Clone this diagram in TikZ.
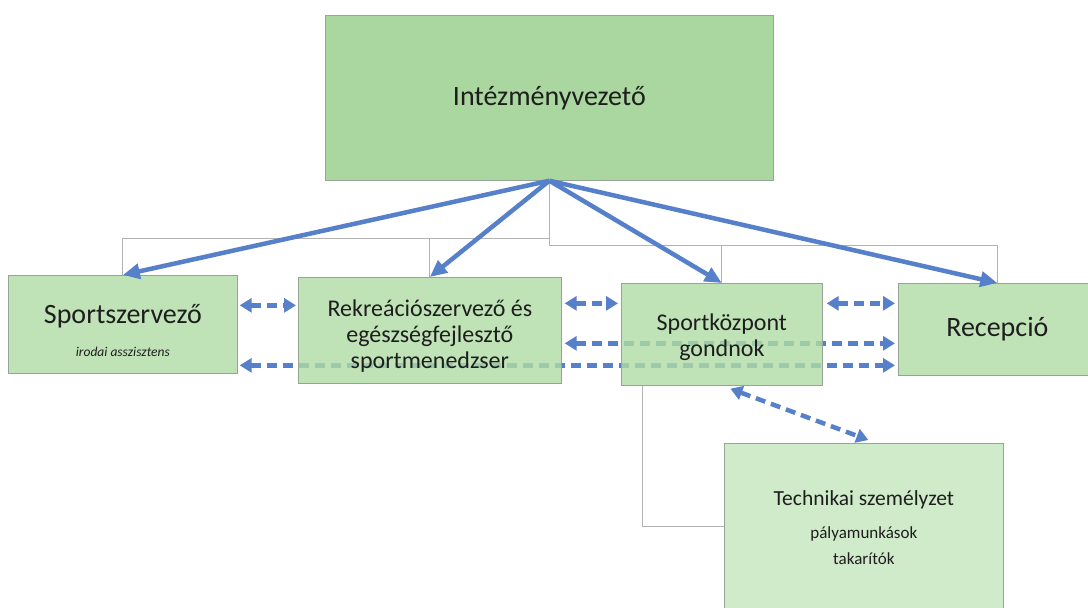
\documentclass[tikz,border=0pt]{standalone}
\usepackage{fontspec}
\setmainfont{Carlito}
\usetikzlibrary{arrows.meta}
\definecolor{boxgreen}{RGB}{170,214,160}
\definecolor{boxgreenlight}{RGB}{176,220,164}
\definecolor{boxgreenpale}{RGB}{196,230,189}
\definecolor{boxedge}{RGB}{150,165,150}
\definecolor{arrowblue}{RGB}{86,128,202}
\definecolor{linegray}{RGB}{178,178,178}
\definecolor{txt}{RGB}{30,30,30}
\pgfdeclarelayer{background}
\pgfsetlayers{background,main}
\begin{document}
\begin{tikzpicture}[x=1pt,y=-1pt,
  orgbox/.style={draw=boxedge, line width=0.7pt, fill=boxgreenlight, fill opacity=0.8,
    text opacity=1, text=txt, inner sep=0pt, align=center, anchor=north west},
  orgline/.style={draw=linegray, line width=1pt},
  solidarrow/.style={draw=arrowblue, line width=4.5pt, -{Triangle[length=17pt,width=15pt]}},
  dasharrow/.style={draw=arrowblue, line width=4.5pt, dash pattern=on 10pt off 6pt,
    {Triangle[length=12pt,width=14pt]}-{Triangle[length=12pt,width=14pt]}}
]
\useasboundingbox (0,0) rectangle (1088,608);

% boxes
\node[orgbox, fill=boxgreen, fill opacity=1, minimum width=448pt, minimum height=165pt,
      font=\fontsize{28}{34}\selectfont] (top) at (325,15) {Intézményvezető};
\node[orgbox, minimum width=229pt, minimum height=98pt,
      font=\fontsize{28}{34}\selectfont] (sz) at (8,275)
      {\rule{0pt}{31pt}Sportszervező\\[-1pt]{\fontsize{13.5}{15}\selectfont\itshape irodai asszisztens}};
\node[orgbox, minimum width=263pt, minimum height=106pt,
      font=\fontsize{24}{26}\selectfont] (rek) at (298,277)
      {\rule{0pt}{28pt}Rekreációszervező és\\egészségfejlesztő\\sportmenedzser};
\node[orgbox, minimum width=201pt, minimum height=102pt,
      font=\fontsize{24}{26}\selectfont] (sk) at (621,283)
      {\rule{0pt}{22pt}Sportközpont\\gondnok};
\node[orgbox, minimum width=198pt, minimum height=92pt,
      font=\fontsize{28}{34}\selectfont] (rec) at (898,283) {Recepció};
\node[orgbox, fill=boxgreenpale, minimum width=279pt, minimum height=180pt,
      font=\fontsize{21.5}{26}\selectfont] (tech) at (724,443)
      {Technikai személyzet\\[7pt]{\fontsize{17}{22}\selectfont pályamunkások}\\[0pt]{\fontsize{17}{22}\selectfont takarítók\rule[-11pt]{0pt}{0pt}}};

% org-chart lines and long dashed arrows behind the boxes
\begin{pgfonlayer}{background}
  \fill[white] (0,0) rectangle (1088,608);
  \draw[orgline] (top.south) -- ++(0,65);
  \draw[orgline] ([yshift=-58pt]top.south) -| (sz.north);
  \draw[orgline] (rek.north) -- ++(0,-39);
  \draw[orgline] ([yshift=-65pt]top.south) -| (rec.north);
  \draw[orgline] (sk.north) -- ++(0,-38);
  \draw[orgline] ([xshift=-79.5pt]sk.south) |- ([yshift=-83pt]tech.north west);
  \draw[dasharrow] ([xshift=3pt,yshift=-13pt]rek.east) -- ([xshift=-3pt,yshift=-14pt]rec.west);
  \draw[dasharrow] ([xshift=2pt,yshift=-41pt]sz.east) -- ([xshift=-3pt,yshift=-36pt]rec.west);
\end{pgfonlayer}

% solid arrows from the head
\draw[solidarrow] (top.south) -- (sz.north);
\draw[solidarrow] (top.south) -- (rek.north);
\draw[solidarrow] (top.south) -- (sk.north);
\draw[solidarrow] (top.south) -- (rec.north);

% short dashed double arrows
\draw[dasharrow] ([xshift=2pt,yshift=19pt]sz.east) -- ([xshift=-2pt,yshift=25pt]rek.west);
\draw[dasharrow] ([xshift=3pt,yshift=27pt]rek.east) -- ([xshift=-3pt,yshift=31pt]sk.west);
\draw[dasharrow] ([xshift=4pt,yshift=31pt]sk.east) -- ([xshift=-3pt,yshift=26pt]rec.west);
\draw[dasharrow] ([xshift=8.5pt,yshift=-3pt]sk.south) -- ([xshift=4.5pt,yshift=3pt]tech.north);
\end{tikzpicture}
\end{document}
